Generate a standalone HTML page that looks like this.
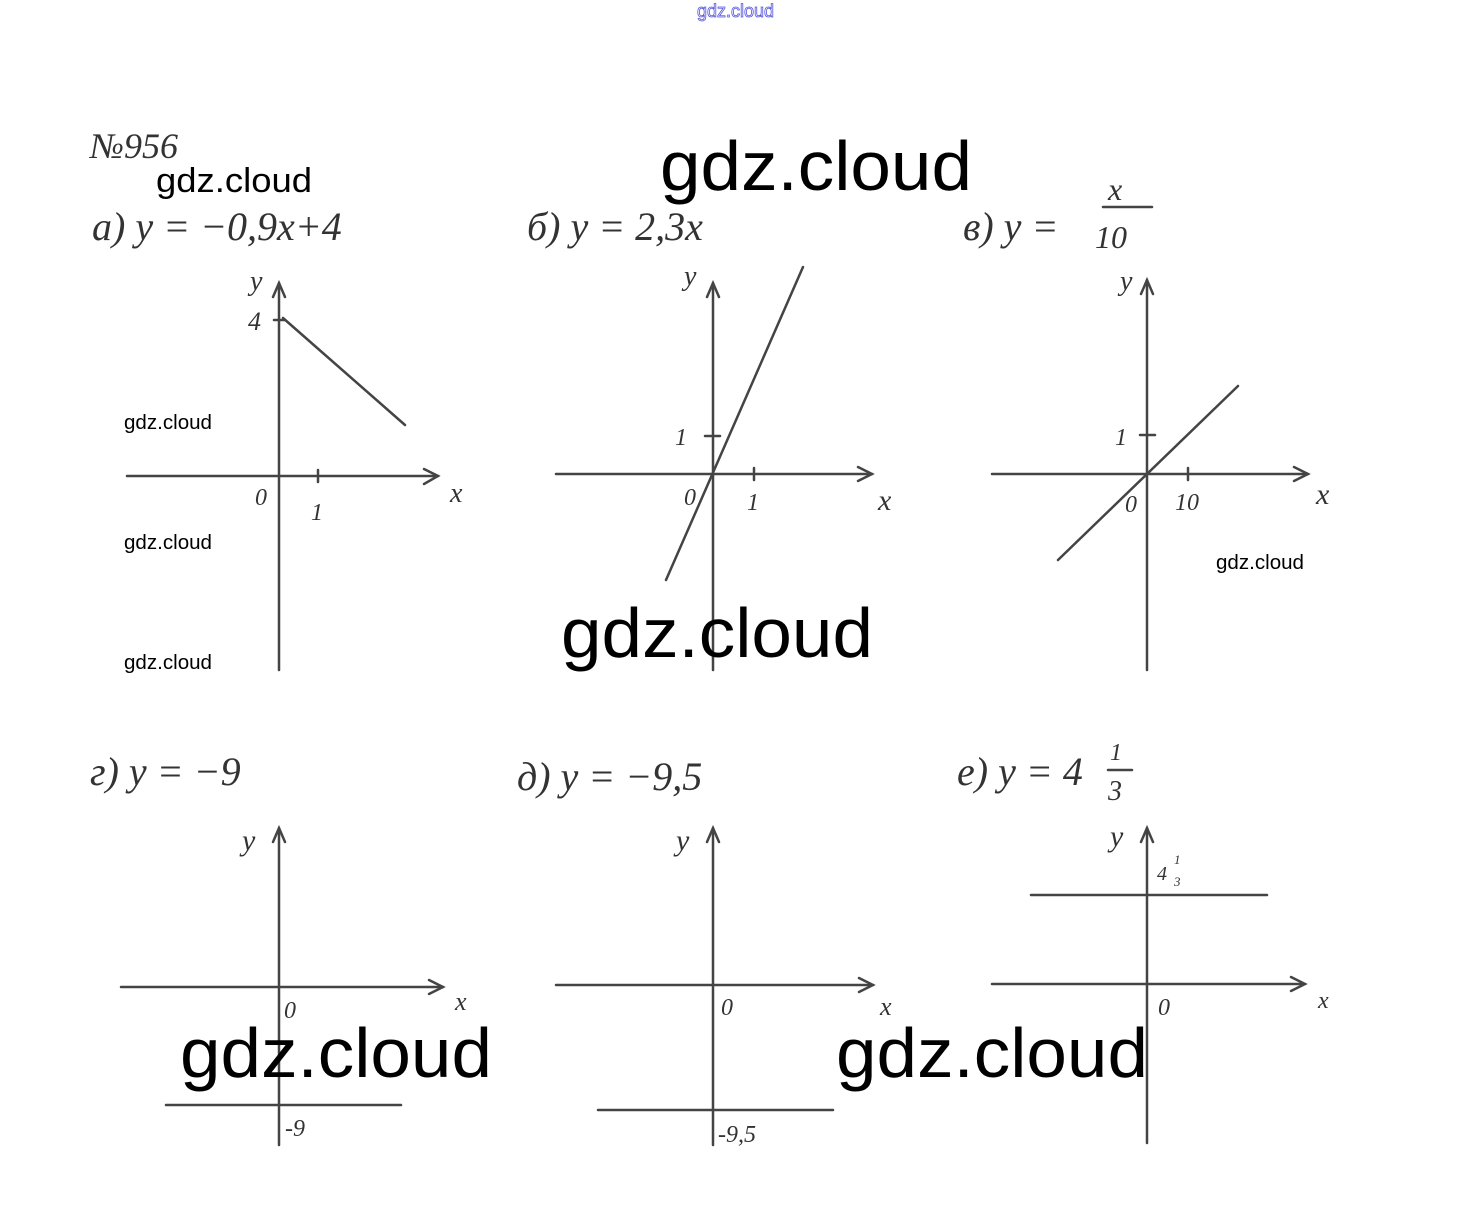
<!DOCTYPE html>
<html><head><meta charset="utf-8"><style>
html,body{margin:0;padding:0;background:#fff;}
svg{display:block;}
.h{font-family:"Liberation Serif",serif;font-style:italic;fill:#333;}
.w{font-family:"Liberation Sans",sans-serif;fill:#000;}
</style></head><body>
<svg width="1471" height="1224" viewBox="0 0 1471 1224" xmlns="http://www.w3.org/2000/svg">
<rect width="1471" height="1224" fill="#fff"/>
<g stroke="#444" stroke-width="2.5" fill="none" stroke-linecap="round">
<line x1="279" y1="283" x2="279" y2="670"/><polyline points="273,297 279,283 285,297"/>
<line x1="127" y1="476" x2="438" y2="476"/><polyline points="424,469 438,476 424,484"/>
<line x1="283" y1="318" x2="405" y2="425"/><line x1="274" y1="320" x2="285" y2="320"/><line x1="318" y1="470" x2="318" y2="482"/>
<line x1="713" y1="283" x2="713" y2="670"/><polyline points="707,297 713,283 719,297"/>
<line x1="556" y1="474" x2="872" y2="474"/><polyline points="858,467 872,474 858,481"/>
<line x1="666" y1="580" x2="803" y2="267"/><line x1="705" y1="436" x2="720" y2="436"/><line x1="754" y1="468" x2="754" y2="480"/>
<line x1="1147" y1="280" x2="1147" y2="670"/><polyline points="1141,294 1147,280 1153,294"/>
<line x1="992" y1="474" x2="1308" y2="474"/><polyline points="1294,467 1308,474 1294,481"/>
<line x1="1058" y1="560" x2="1238" y2="386"/><line x1="1140" y1="435" x2="1155" y2="435"/><line x1="1188" y1="468" x2="1188" y2="480"/>
<line x1="279" y1="828" x2="279" y2="1145"/><polyline points="273,842 279,828 285,842"/>
<line x1="121" y1="987" x2="443" y2="987"/><polyline points="429,980 443,987 429,994"/>
<line x1="166" y1="1105" x2="401" y2="1105"/>
<line x1="713" y1="828" x2="713" y2="1145"/><polyline points="707,842 713,828 719,842"/>
<line x1="556" y1="985" x2="873" y2="985"/><polyline points="859,978 873,985 859,992"/>
<line x1="598" y1="1110" x2="833" y2="1110"/>
<line x1="1147" y1="828" x2="1147" y2="1143"/><polyline points="1141,842 1147,828 1153,842"/>
<line x1="992" y1="984" x2="1305" y2="984"/><polyline points="1291,977 1305,984 1291,991"/>
<line x1="1031" y1="895" x2="1267" y2="895"/>
<line x1="1103" y1="207" x2="1152" y2="207"/><line x1="1108" y1="770" x2="1132" y2="770"/>
</g>
<g class="h">
<text x="90" y="158" font-size="36">№956</text>
<text x="92" y="240" font-size="40">a) y = −0,9x+4</text>
<text x="527" y="240" font-size="40">б) y = 2,3x</text>
<text x="963" y="240" font-size="40">в) y =</text>
<text x="1108" y="200" font-size="32">x</text>
<text x="1095" y="248" font-size="32">10</text>
<text x="250" y="290" font-size="28">y</text><text x="248" y="330" font-size="26">4</text>
<text x="255" y="505" font-size="24">0</text><text x="311" y="520" font-size="24">1</text><text x="450" y="502" font-size="28">x</text>
<text x="684" y="285" font-size="28">y</text><text x="675" y="445" font-size="24">1</text>
<text x="684" y="505" font-size="24">0</text><text x="747" y="510" font-size="24">1</text><text x="878" y="510" font-size="30">x</text>
<text x="1120" y="290" font-size="28">y</text><text x="1115" y="445" font-size="24">1</text>
<text x="1125" y="512" font-size="24">0</text><text x="1175" y="510" font-size="24">10</text><text x="1316" y="504" font-size="30">x</text>
<text x="90" y="785" font-size="40">г) y = −9</text>
<text x="517" y="790" font-size="40">д) y = −9,5</text>
<text x="957" y="785" font-size="40">e) y = 4</text>
<text x="1110" y="760" font-size="24">1</text><text x="1108" y="800" font-size="28">3</text>
<text x="242" y="850" font-size="30">y</text><text x="284" y="1018" font-size="24">0</text><text x="455" y="1010" font-size="26">x</text><text x="285" y="1136" font-size="24">-9</text>
<text x="676" y="850" font-size="30">y</text><text x="721" y="1015" font-size="24">0</text><text x="880" y="1015" font-size="26">x</text><text x="718" y="1142" font-size="24">-9,5</text>
<text x="1110" y="846" font-size="30">y</text><text x="1157" y="880" font-size="20">4</text><text x="1174" y="864" font-size="13">1</text><text x="1174" y="886" font-size="13">3</text>
<text x="1158" y="1015" font-size="24">0</text><text x="1318" y="1008" font-size="24">x</text>
</g>
<g class="w">
<text x="697" y="17" font-size="18" fill="#fff" stroke="#55d" stroke-width="0.8">gdz.cloud</text>
<text x="660" y="190" font-size="70" textLength="312" lengthAdjust="spacingAndGlyphs">gdz.cloud</text>
<text x="561" y="657" font-size="70" textLength="312" lengthAdjust="spacingAndGlyphs">gdz.cloud</text>
<text x="180" y="1077" font-size="70" textLength="312" lengthAdjust="spacingAndGlyphs">gdz.cloud</text>
<text x="836" y="1077" font-size="70" textLength="312" lengthAdjust="spacingAndGlyphs">gdz.cloud</text>
<text x="156" y="192" font-size="34" textLength="156" lengthAdjust="spacingAndGlyphs">gdz.cloud</text>
<text x="124" y="429" font-size="20" textLength="88" lengthAdjust="spacingAndGlyphs">gdz.cloud</text>
<text x="124" y="549" font-size="20" textLength="88" lengthAdjust="spacingAndGlyphs">gdz.cloud</text>
<text x="124" y="669" font-size="20" textLength="88" lengthAdjust="spacingAndGlyphs">gdz.cloud</text>
<text x="1216" y="569" font-size="20" textLength="88" lengthAdjust="spacingAndGlyphs">gdz.cloud</text>
</g>
</svg>
</body></html>
